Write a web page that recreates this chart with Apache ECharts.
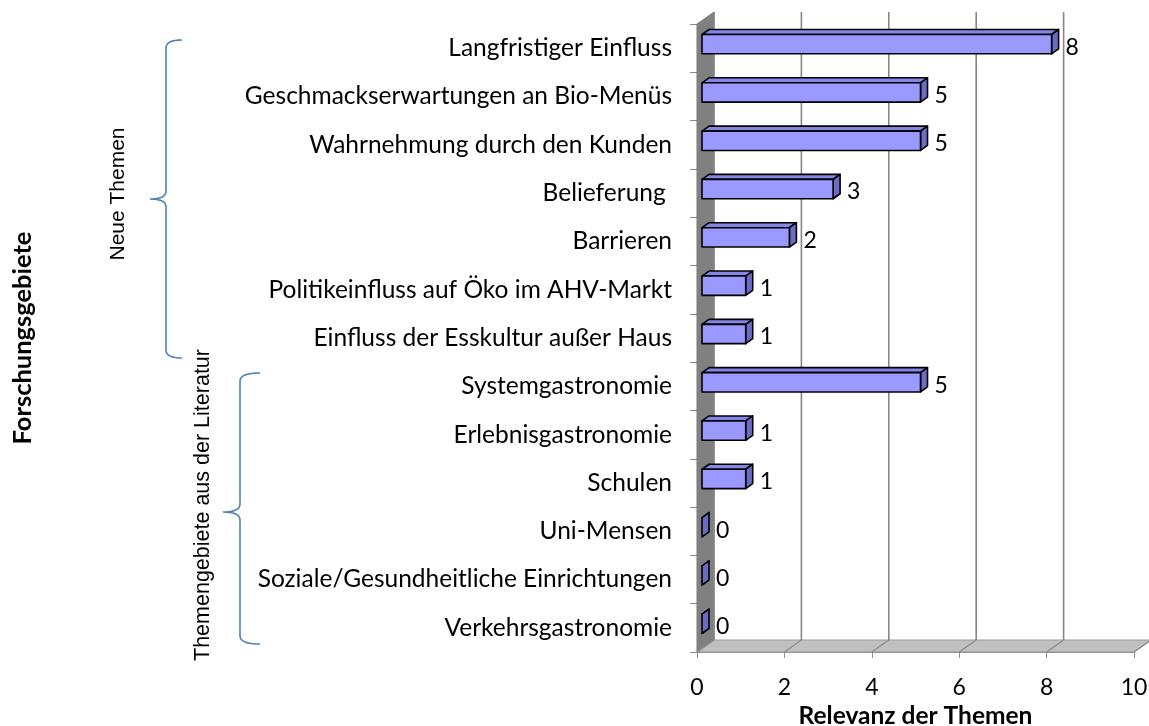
<!DOCTYPE html>
<html>
<head>
<meta charset="utf-8">
<script src="https://cdn.jsdelivr.net/npm/echarts@6/dist/echarts.min.js"></script>
<style>
  html, body { margin: 0; padding: 0; background: #fff; }
  #chart { width: 1149px; height: 726px; }
</style>
</head>
<body>
<div id="chart"></div>
<script>
// categories top to bottom
const categories = [
  "Langfristiger Einfluss",
  "Geschmackserwartungen an Bio-Menüs",
  "Wahrnehmung durch den Kunden",
  "Belieferung ",
  "Barrieren",
  "Politikeinfluss auf Öko im AHV-Markt",
  "Einfluss der Esskultur außer Haus",
  "Systemgastronomie",
  "Erlebnisgastronomie",
  "Schulen",
  "Uni-Mensen",
  "Soziale/Gesundheitliche Einrichtungen",
  "Verkehrsgastronomie"
];
const values = [8, 5, 5, 3, 2, 1, 1, 5, 1, 1, 0, 0, 0];
const xTicks = [0, 2, 4, 6, 8, 10];

const FONT = "Lato";
// 3d look
const wallDx = 17, wallDy = -12;
const barShiftX = 5, barShiftY = -4;
const barDx = 7, barDy = -5;

const chart = echarts.init(document.getElementById("chart"));

function renderFrame(params, api) {
  const cs = params.coordSys;
  const T = cs.y, B = cs.y + cs.height;
  const x0 = cs.x, x1 = cs.x + cs.width;
  return {
    type: "group",
    children: [
      {
        type: "polygon",
        shape: { points: [[x0, B], [x1, B], [x1 + wallDx, B + wallDy], [x0 + wallDx, B + wallDy]] },
        style: { fill: "#c0c0c0", stroke: "#9a9a9a", lineWidth: 1 }
      },
      {
        type: "polygon",
        shape: { points: [[x0, T], [x0 + wallDx, T + wallDy], [x0 + wallDx, B + wallDy], [x0, B]] },
        style: { fill: "#808080", stroke: "#808080", lineWidth: 1 }
      }
    ]
  };
}

function renderGrid(params, api) {
  const cs = params.coordSys;
  const T = cs.y, B = cs.y + cs.height;
  const x = api.coord([api.value(0), 0])[0];
  return {
    type: "group",
    children: [
      {
        type: "line",
        shape: { x1: x + wallDx, y1: T + wallDy, x2: x + wallDx, y2: B + wallDy },
        style: { stroke: "#878787", lineWidth: 1.6 }
      },
      {
        type: "line",
        shape: { x1: x, y1: B, x2: x + wallDx, y2: B + wallDy },
        style: { stroke: "#8a8a8a", lineWidth: 1.2 }
      }
    ]
  };
}

function renderBar(params, api) {
  const v = api.value(0);
  const start = api.coord([0, api.value(1)]);
  const end = api.coord([v, api.value(1)]);
  const h = api.size([0, 1])[1] * 0.4;
  const xa = start[0] + barShiftX;
  const xb = end[0] + barShiftX;
  const yc = end[1] + barShiftY;
  const yt = yc - h / 2, yb = yc + h / 2;
  const border = { stroke: "#000", lineWidth: 1.6, lineJoin: "round" };
  const kids = [
    {
      type: "polygon",
      shape: { points: [[xa, yt], [xb, yt], [xb + barDx, yt + barDy], [xa + barDx, yt + barDy]] },
      style: Object.assign({ fill: "#8585e8" }, border)
    },
    {
      type: "polygon",
      shape: { points: [[xb, yt], [xb + barDx, yt + barDy], [xb + barDx, yb + barDy], [xb, yb]] },
      style: Object.assign({ fill: "#6b6bc4" }, border)
    }
  ];
  if (v > 0) {
    kids.push({
      type: "rect",
      shape: { x: xa, y: yt, width: xb - xa, height: h },
      style: Object.assign({ fill: "#9999ff" }, border)
    });
  }
  kids.push({
    type: "text",
    style: {
      text: String(v),
      x: xb + barDx + 7,
      y: end[1] - 1,
      fill: "#000",
      fontFamily: FONT,
      fontSize: 23,
      align: "left",
      verticalAlign: "middle"
    }
  });
  return { type: "group", children: kids };
}

// curly brace as polyline: x of the vertical stroke, tip x, arm end x, top, tip, bottom y
function brace(xv, xtip, xarm, top, mid, bottom) {
  const pts = [];
  const q = (p0, p1, p2) => {
    for (let i = 0; i <= 8; i++) {
      const t = i / 8, u = 1 - t;
      pts.push([u * u * p0[0] + 2 * u * t * p1[0] + t * t * p2[0], u * u * p0[1] + 2 * u * t * p1[1] + t * t * p2[1]]);
    }
  };
  q([xarm, top], [xv, top], [xv, top + 8]);
  q([xv, mid - 8], [xv, mid], [xtip, mid]);
  q([xtip, mid], [xv, mid], [xv, mid + 8]);
  q([xv, bottom - 8], [xv, bottom], [xarm, bottom]);
  return pts;
}

chart.setOption({
  animation: false,
  backgroundColor: "#fff",
  grid: { left: 697, right: 15, top: 24, bottom: 74, outerBoundsMode: "none", containLabel: false },
  xAxis: {
    type: "value",
    min: 0,
    max: 10,
    interval: 2,
    splitLine: { show: false },
    axisLine: { show: true, lineStyle: { color: "#8a8a8a", width: 1.2 } },
    axisTick: { show: true, length: 6, lineStyle: { color: "#8a8a8a" } },
    axisLabel: { color: "#000", fontFamily: FONT, fontSize: 23, margin: 24 },
    name: "Relevanz der Themen",
    nameLocation: "middle",
    nameGap: 49,
    nameTextStyle: { color: "#000", fontFamily: FONT, fontWeight: "bold", fontSize: 24.5 }
  },
  yAxis: {
    type: "category",
    inverse: true,
    data: categories,
    axisLine: { show: true, lineStyle: { color: "#8a8a8a", width: 1.2 } },
    axisTick: { show: true, length: 7, lineStyle: { color: "#8a8a8a" } },
    axisLabel: { color: "#000", fontFamily: FONT, fontSize: 24.5, margin: 25 },
    name: "Forschungsgebiete",
    nameLocation: "middle",
    nameRotate: 90,
    nameGap: 661,
    nameTextStyle: { color: "#000", fontFamily: FONT, fontWeight: "bold", fontSize: 25.5 }
  },
  series: [
    {
      type: "custom",
      z: 1,
      silent: true,
      renderItem: renderFrame,
      data: [[0, 0]]
    },
    {
      type: "custom",
      z: 2,
      silent: true,
      renderItem: renderGrid,
      data: xTicks.map(t => [t, 0])
    },
    {
      type: "custom",
      z: 3,
      renderItem: renderBar,
      encode: { x: 0, y: 1 },
      data: values.map((v, i) => [v, i])
    }
  ],
  graphic: [
    {
      type: "polyline",
      shape: { points: brace(166, 150, 182, 40, 199, 358) },
      style: { fill: null, stroke: "#4f81bd", lineWidth: 1.6 }
    },
    {
      type: "polyline",
      shape: { points: brace(240, 223, 260, 373, 512, 644) },
      style: { fill: null, stroke: "#4f81bd", lineWidth: 1.6 }
    },
    {
      type: "text",
      x: 118, y: 194,
      rotation: Math.PI / 2,
      style: { text: "Neue Themen", fill: "#000", fontFamily: "Liberation Sans", fontSize: 21, align: "center", verticalAlign: "middle" }
    },
    {
      type: "text",
      x: 203, y: 505,
      rotation: Math.PI / 2,
      style: { text: "Themengebiete aus der Literatur", fill: "#000", fontFamily: "Liberation Sans", fontSize: 21.5, align: "center", verticalAlign: "middle" }
    }
  ]
});
</script>
</body>
</html>
